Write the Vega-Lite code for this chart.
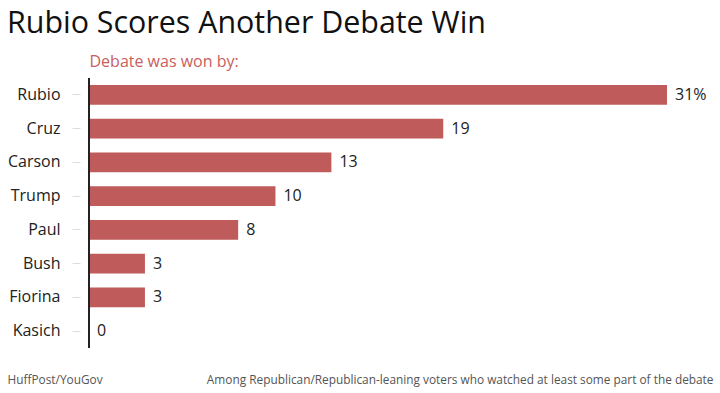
{
  "$schema": "https://vega.github.io/schema/vega-lite/v6.json",
  "width": 578,
  "height": 270,
  "autosize": {"type": "none"},
  "padding": {"left": 89, "top": 78, "right": 53, "bottom": 45},
  "background": "white",
  "config": {"view": {"stroke": null}, "font": "Open Sans"},
  "title": {
    "text": "Rubio Scores Another Debate Win",
    "anchor": "start",
    "frame": "group",
    "dx": -82,
    "font": "Open Sans",
    "fontSize": 30.4,
    "fontWeight": "normal",
    "color": "#111111",
    "offset": 14
  },
  "data": {
    "values": [
      {"candidate": "Rubio", "pct": 31, "label": "31%"},
      {"candidate": "Cruz", "pct": 19, "label": "19"},
      {"candidate": "Carson", "pct": 13, "label": "13"},
      {"candidate": "Trump", "pct": 10, "label": "10"},
      {"candidate": "Paul", "pct": 8, "label": "8"},
      {"candidate": "Bush", "pct": 3, "label": "3"},
      {"candidate": "Fiorina", "pct": 3, "label": "3"},
      {"candidate": "Kasich", "pct": 0, "label": "0"}
    ]
  },
  "resolve": {"axis": {"x": "independent"}},
  "encoding": {
    "y": {
      "field": "candidate",
      "type": "nominal",
      "sort": null,
      "scale": {"paddingInner": 0.42, "paddingOuter": 0.21},
      "axis": {
        "title": "Debate was won by:",
        "titleAngle": 0,
        "titleAlign": "left",
        "titleBaseline": "alphabetic",
        "titleX": 9,
        "titleY": -12,
        "titleFont": "Open Sans",
        "titleFontSize": 16,
        "titleFontWeight": "normal",
        "titleColor": "#c9605c",
        "domain": false,
        "offset": 9,
        "tickSize": 8,
        "tickColor": "#dddddd",
        "labelPadding": 12,
        "labelFont": "Open Sans",
        "labelFontSize": 16,
        "labelColor": "#222222"
      }
    }
  },
  "layer": [
    {
      "mark": {"type": "bar", "color": "#bf5b5b"},
      "encoding": {
        "x": {
          "field": "pct",
          "type": "quantitative",
          "scale": {"domain": [0, 31], "nice": false},
          "axis": {
            "orient": "bottom",
            "title": "Among Republican/Republican-leaning voters who watched at least some part of the debate",
            "titleAnchor": "end",
            "titleAlign": "right",
            "titleBaseline": "alphabetic",
            "titleX": 624,
            "titleY": 35,
            "titleFont": "Open Sans",
            "titleFontSize": 11.85,
            "titleFontWeight": "normal",
            "titleColor": "#555555",
            "domain": false,
            "ticks": false,
            "labels": false,
            "grid": false
          }
        }
      }
    },
    {
      "mark": {"type": "text", "align": "left", "dx": 8, "fontSize": 16, "font": "Open Sans", "color": "#222222"},
      "encoding": {
        "x": {
          "field": "pct",
          "type": "quantitative",
          "axis": {
            "orient": "top",
            "title": "HuffPost/YouGov",
            "titleAnchor": "start",
            "titleAlign": "left",
            "titleBaseline": "alphabetic",
            "titleX": -82,
            "titleY": 305,
            "titleFont": "Open Sans",
            "titleFontSize": 11.85,
            "titleFontWeight": "normal",
            "titleColor": "#555555",
            "domain": false,
            "ticks": false,
            "labels": false,
            "grid": false
          }
        },
        "text": {"field": "label"}
      }
    },
    {
      "mark": {"type": "rule", "color": "#222222", "strokeWidth": 1},
      "encoding": {"x": {"datum": 0, "axis": null}, "y": null}
    }
  ]
}
